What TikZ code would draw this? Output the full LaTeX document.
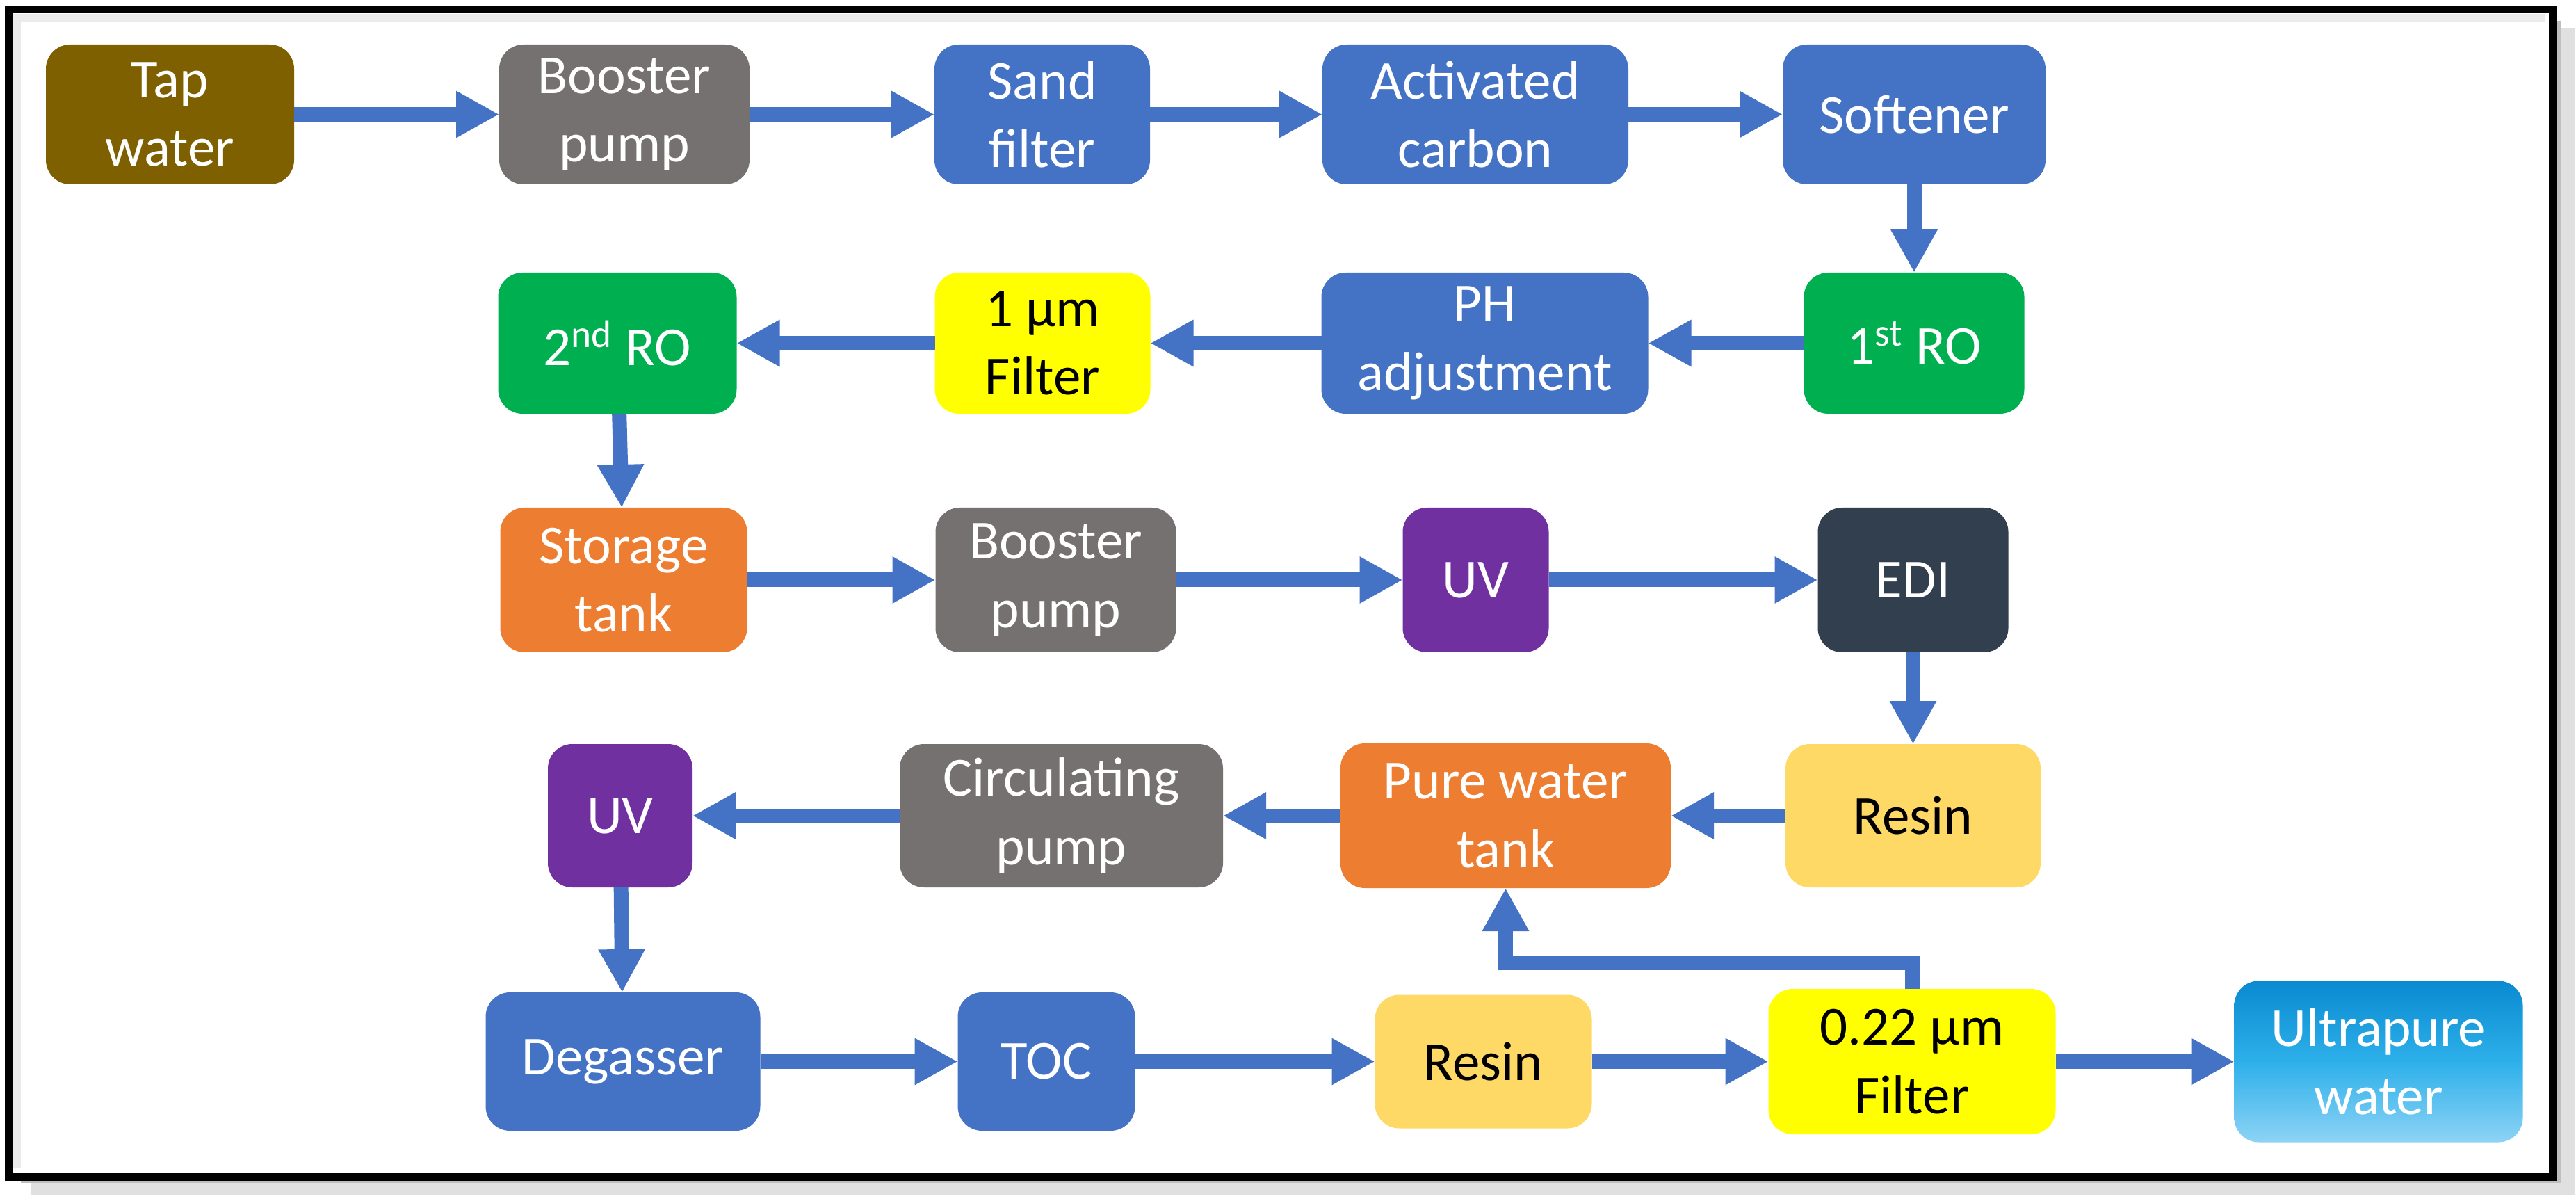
\documentclass[tikz,border=0pt]{standalone}
\usepackage{fontspec}
\setmainfont{Carlito}
\usepackage{xcolor}
\usetikzlibrary{arrows.meta, positioning}

\definecolor{tapbrown}{HTML}{7F6000}
\definecolor{pumpgray}{HTML}{767171}
\definecolor{procblue}{HTML}{4472C4}
\definecolor{rogreen}{HTML}{00B050}
\definecolor{filteryellow}{HTML}{FFFF00}
\definecolor{tankorange}{HTML}{ED7D31}
\definecolor{uvpurple}{HTML}{7030A0}
\definecolor{edidark}{HTML}{323F4F}
\definecolor{resinyellow}{HTML}{FFD966}
\definecolor{upwtop}{HTML}{0A8AD0}
\definecolor{upwmid}{HTML}{2DB0EA}
\definecolor{upwbot}{HTML}{8DD3F5}

\begin{document}
\begin{tikzpicture}[
  box/.style={rectangle, rounded corners=0.35cm, minimum height=2.03cm, align=center, text=white, outer sep=0pt, font=\fontsize{22.5}{28}\selectfont},
  blackbox/.style={box, text=black},
  arrow/.style={-{Triangle[length=0.62cm, width=0.63cm]}, line width=0.21cm, draw=procblue}
]
  \useasboundingbox (0,0) rectangle (37.05,-17.27);
  \draw[black!12, line width=0.25cm] (0.45,-17.05) -- (36.9,-17.05) -- (36.9,-0.4);
  \draw[black!25, line width=0.1cm] (0.3,-16.96) -- (36.78,-16.96) -- (36.78,-0.3);
  \draw[black!8, line width=0.12cm] (0.24,-16.8) -- (0.24,-0.26) -- (36.6,-0.26);
  \draw[black, line width=0.11cm] (0.125,-0.135) rectangle (36.715,-16.925);

  \node[box, fill=tapbrown, minimum width=3.57cm, minimum height=2.01cm] (Tap) at (2.445,-1.645) {Tap\\water};
  \node[box, fill=pumpgray, minimum width=3.60cm, minimum height=2.01cm, right=2.95cm of Tap] (Booster) {Booster\\pump};
  \node[box, fill=procblue, minimum width=3.10cm, minimum height=2.01cm, right=2.66cm of Booster] (Sand) {Sand\\filter};
  \node[box, fill=procblue, minimum width=4.40cm, minimum height=2.01cm, right=2.48cm of Sand] (Carbon) {Activated\\carbon};
  \node[box, fill=procblue, minimum width=3.78cm, minimum height=2.01cm, right=2.22cm of Carbon] (Softener) {Softener};

  \node[box, fill=rogreen, minimum width=3.17cm, below=1.27cm of Softener] (ROone) {1\textsuperscript{st} RO};
  \node[box, fill=procblue, minimum width=4.70cm, left=2.24cm of ROone] (PH) {PH\\adjustment};
  \node[blackbox, fill=filteryellow, minimum width=3.10cm, left=2.46cm of PH] (Filter) {1 µm\\Filter};
  \node[box, fill=rogreen, minimum width=3.43cm, left=2.85cm of Filter] (ROtwo) {2\textsuperscript{nd} RO};

  \node[box, fill=tankorange, minimum width=3.55cm, minimum height=2.08cm, below=1.35cm of ROtwo, xshift=0.09cm] (Storage) {Storage\\tank};
  \node[box, fill=pumpgray, minimum width=3.46cm, minimum height=2.08cm, right=2.71cm of Storage] (BoosterB) {Booster\\pump};
  \node[box, fill=uvpurple, minimum width=2.10cm, minimum height=2.08cm, right=3.26cm of BoosterB] (UV) {UV};
  \node[box, fill=edidark, minimum width=2.74cm, minimum height=2.08cm, right=3.87cm of UV] (EDI) {EDI};

  \node[blackbox, fill=resinyellow, minimum width=3.67cm, minimum height=2.06cm, below=1.32cm of EDI] (Resin) {Resin};
  \node[box, fill=tankorange, minimum width=4.75cm, minimum height=2.08cm, left=1.65cm of Resin] (PureTank) {Pure water\\tank};
  \node[box, fill=pumpgray, minimum width=4.65cm, minimum height=2.06cm, left=1.69cm of PureTank] (Circ) {Circulating\\pump};
  \node[box, fill=uvpurple, minimum width=2.08cm, minimum height=2.06cm, left=2.98cm of Circ] (UVb) {UV};

  \node[box, fill=procblue, minimum width=3.95cm, minimum height=1.99cm, below=1.51cm of UVb, xshift=0.04cm] (Degas) {Degasser};
  \node[box, fill=procblue, minimum width=2.55cm, minimum height=1.99cm, right=2.84cm of Degas] (TOC) {TOC};
  \node[blackbox, fill=resinyellow, minimum width=3.12cm, minimum height=1.92cm, right=3.45cm of TOC] (ResinB) {Resin};
  \node[blackbox, fill=filteryellow, minimum width=4.13cm, minimum height=2.09cm, right=2.54cm of ResinB] (FilterB) {0.22 µm\\Filter};
  \node[box, top color=upwtop, bottom color=upwbot, middle color=upwmid, minimum width=4.15cm, minimum height=2.32cm, right=2.57cm of FilterB] (UPW) {Ultrapure\\water};

  \draw[arrow] (Tap) -- (Booster);
  \draw[arrow] (Booster) -- (Sand);
  \draw[arrow] (Sand) -- (Carbon);
  \draw[arrow] (Carbon) -- (Softener);
  \draw[arrow] (Softener) -- (ROone);
  \draw[arrow] (ROone) -- (PH);
  \draw[arrow] (PH) -- (Filter);
  \draw[arrow] (Filter) -- (ROtwo);
  \draw[arrow] (ROtwo) -- (Storage);
  \draw[arrow] (Storage) -- (BoosterB);
  \draw[arrow] (BoosterB) -- (UV);
  \draw[arrow] (UV) -- (EDI);
  \draw[arrow] (EDI) -- (Resin);
  \draw[arrow] (Resin) -- (PureTank);
  \draw[arrow] (PureTank) -- (Circ);
  \draw[arrow] (Circ) -- (UVb);
  \draw[arrow] (UVb) -- (Degas);
  \draw[arrow] (Degas) -- (TOC);
  \draw[arrow] (TOC) -- (ResinB);
  \draw[arrow] (ResinB) -- (FilterB);
  \draw[arrow] (FilterB) -- (UPW);
  \draw[arrow] (FilterB.north) -- ++(0,0.38) -| (PureTank.south);
\end{tikzpicture}
\end{document}
